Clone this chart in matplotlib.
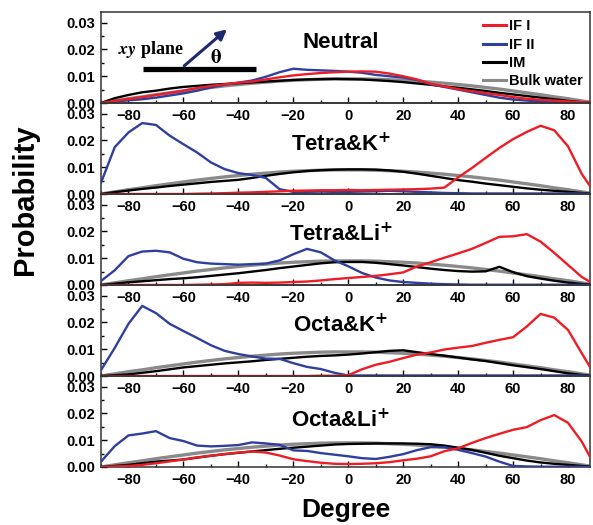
import numpy as np
import matplotlib
matplotlib.use('Agg')
import matplotlib.pyplot as plt
from matplotlib.ticker import MultipleLocator

plt.rcParams['font.family'] = ['Liberation Sans', 'DejaVu Sans']
plt.rcParams['font.weight'] = 'bold'
plt.rcParams['mathtext.default'] = 'bf'

# angle grid (degree)
DEG = np.arange(-90, 91, 5)

# bulk water reference (same in every panel)
BULK = [0, 0.0008, 0.0016, 0.0023, 0.0031, 0.0038, 0.0045, 0.0052, 0.0058, 0.0064,
        0.0069, 0.0074, 0.0078, 0.0082, 0.0085, 0.0087, 0.0089, 0.0090, 0.0090, 0.0090,
        0.0089, 0.0087, 0.0085, 0.0082, 0.0078, 0.0074, 0.0069, 0.0064, 0.0058, 0.0052,
        0.0045, 0.0038, 0.0031, 0.0023, 0.0016, 0.0008, 0]

# Neutral
NEUTRAL_IF1 = [0, 0.0008, 0.0015, 0.0022, 0.0030, 0.0038, 0.0046, 0.0056, 0.0064, 0.0070,
               0.0076, 0.0080, 0.0088, 0.0096, 0.0103, 0.0108, 0.0112, 0.0115, 0.0117, 0.0118,
               0.0117, 0.0110, 0.0100, 0.0088, 0.0072, 0.0062, 0.0052, 0.0044, 0.0037, 0.0030,
               0.0022, 0.0016, 0.0012, 0.0009, 0.0006, 0.0003, 0]
NEUTRAL_IF2 = [0, 0.0005, 0.0010, 0.0014, 0.0020, 0.0028, 0.0036, 0.0046, 0.0058, 0.0068,
               0.0076, 0.0084, 0.0098, 0.0115, 0.0128, 0.0124, 0.0122, 0.0120, 0.0117, 0.0113,
               0.0105, 0.0100, 0.0095, 0.0086, 0.0070, 0.0060, 0.0050, 0.0040, 0.0030, 0.0020,
               0.0013, 0.0009, 0.0006, 0.0004, 0.0003, 0.0001, 0]
NEUTRAL_IM = [0, 0.0018, 0.0030, 0.0040, 0.0046, 0.0054, 0.0060, 0.0064, 0.0068, 0.0071,
              0.0074, 0.0077, 0.0080, 0.0083, 0.0086, 0.0088, 0.0089, 0.0090, 0.0089, 0.0088,
              0.0085, 0.0082, 0.0078, 0.0073, 0.0068, 0.0062, 0.0057, 0.0051, 0.0045, 0.0038,
              0.0032, 0.0026, 0.0020, 0.0014, 0.0008, 0.0003, 0]

# Tetra&K+
TK_IF1 = [0, 0, 0, 0, 0, 0, 0, 0.0001, 0.0002, 0.0003,
          0.0005, 0.0006, 0.0008, 0.0010, 0.0012, 0.0013, 0.0014, 0.0014, 0.0015, 0.0014,
          0.0015, 0.0016, 0.0017, 0.0018, 0.0020, 0.0024, 0.0062, 0.0097, 0.0135, 0.0172,
          0.0205, 0.0232, 0.0255, 0.0238, 0.0178, 0.0075, 0]
TK_IF2 = [0.0042, 0.0175, 0.0230, 0.0265, 0.0258, 0.0218, 0.0186, 0.0155, 0.0118, 0.0093,
          0.0078, 0.0071, 0.0060, 0.0018, 0.0008, 0.0008, 0.0009, 0.0008, 0.0008, 0.0009,
          0.0010, 0.0012, 0.0010, 0.0008, 0.0006, 0.0004, 0.0003, 0.0002, 0.0002, 0.0002,
          0.0002, 0.0002, 0.0002, 0.0002, 0.0002, 0.0002, 0]
TK_IM = [0, 0.0007, 0.0013, 0.0019, 0.0024, 0.0030, 0.0035, 0.0040, 0.0045, 0.0049,
         0.0053, 0.0060, 0.0068, 0.0075, 0.0081, 0.0086, 0.0089, 0.0091, 0.0092, 0.0092,
         0.0091, 0.0088, 0.0083, 0.0076, 0.0068, 0.0060, 0.0052, 0.0046, 0.0039, 0.0033,
         0.0027, 0.0021, 0.0016, 0.0012, 0.0008, 0.0004, 0]

# Tetra&Li+
TL_IF1 = [0, 0, 0, 0, 0, 0, 0, 0.0001, 0.0002, 0.0003,
          0.0008, 0.0009, 0.0008, 0.0009, 0.0011, 0.0013, 0.0017, 0.0022, 0.0026, 0.0030,
          0.0034, 0.0040, 0.0047, 0.0069, 0.0085, 0.0102, 0.0118, 0.0135, 0.0157, 0.0180,
          0.0182, 0.0190, 0.0162, 0.0120, 0.0075, 0.0030, 0]
TL_IF2 = [0.0015, 0.0055, 0.0108, 0.0125, 0.0128, 0.0122, 0.0098, 0.0085, 0.0080, 0.0078,
          0.0076, 0.0078, 0.0080, 0.0092, 0.0115, 0.0135, 0.0122, 0.0092, 0.0070, 0.0045,
          0.0028, 0.0017, 0.0011, 0.0008, 0.0005, 0.0003, 0.0002, 0.0001, 0.0001, 0.0001,
          0.0001, 0.0001, 0.0001, 0.0001, 0.0001, 0.0001, 0]
TL_IM = [0, 0.0005, 0.0010, 0.0014, 0.0018, 0.0022, 0.0025, 0.0029, 0.0034, 0.0039,
         0.0044, 0.0050, 0.0056, 0.0063, 0.0069, 0.0075, 0.0081, 0.0085, 0.0086, 0.0086,
         0.0083, 0.0078, 0.0073, 0.0067, 0.0061, 0.0056, 0.0052, 0.0050, 0.0051, 0.0068,
         0.0048, 0.0033, 0.0024, 0.0016, 0.0009, 0.0004, 0]

# Octa&K+
OK_IF1 = [0, 0, 0, 0, 0, 0, 0, 0, 0, 0,
          0, 0, 0, 0, 0, 0, 0.0001, 0.0001, 0.0003, 0.0025,
          0.0042, 0.0053, 0.0067, 0.0080, 0.0088, 0.0099, 0.0106, 0.0112, 0.0124, 0.0135,
          0.0145, 0.0185, 0.0232, 0.0218, 0.0172, 0.0085, 0]
OK_IF2 = [0.0022, 0.0105, 0.0195, 0.0262, 0.0235, 0.0195, 0.0168, 0.0142, 0.0115, 0.0094,
          0.0082, 0.0073, 0.0065, 0.0064, 0.0048, 0.0034, 0.0026, 0.0012, 0.0002, 0.0002,
          0.0002, 0.0002, 0.0002, 0.0002, 0.0002, 0.0002, 0.0002, 0.0002, 0.0002, 0.0002,
          0.0002, 0.0002, 0.0002, 0.0002, 0.0002, 0.0002, 0]
OK_IM = [0, 0.0003, 0.0006, 0.0012, 0.0018, 0.0025, 0.0032, 0.0037, 0.0042, 0.0047,
         0.0051, 0.0055, 0.0060, 0.0064, 0.0068, 0.0072, 0.0075, 0.0077, 0.0080, 0.0084,
         0.0089, 0.0094, 0.0096, 0.0089, 0.0082, 0.0076, 0.0069, 0.0062, 0.0056, 0.0048,
         0.0040, 0.0033, 0.0026, 0.0018, 0.0010, 0.0004, 0]

# Octa&Li+
OL_IF1 = [0, 0.0002, 0.0004, 0.0008, 0.0014, 0.0021, 0.0028, 0.0036, 0.0042, 0.0048,
          0.0054, 0.0058, 0.0054, 0.0043, 0.0029, 0.0022, 0.0016, 0.0012, 0.0011, 0.0012,
          0.0014, 0.0018, 0.0025, 0.0031, 0.0040, 0.0059, 0.0070, 0.0090, 0.0108, 0.0124,
          0.0139, 0.0149, 0.0175, 0.0194, 0.0165, 0.0095, 0]
OL_IF2 = [0.0020, 0.0078, 0.0118, 0.0125, 0.0134, 0.0108, 0.0097, 0.0080, 0.0077, 0.0079,
          0.0082, 0.0092, 0.0088, 0.0083, 0.0062, 0.0060, 0.0052, 0.0046, 0.0040, 0.0033,
          0.0030, 0.0038, 0.0048, 0.0063, 0.0074, 0.0074, 0.0064, 0.0052, 0.0039, 0.0020,
          0.0004, 0.0002, 0.0001, 0.0001, 0.0001, 0.0001, 0]
OL_IM = [0, 0.0004, 0.0008, 0.0014, 0.0020, 0.0024, 0.0028, 0.0035, 0.0042, 0.0048,
         0.0053, 0.0058, 0.0063, 0.0068, 0.0072, 0.0076, 0.0080, 0.0084, 0.0086, 0.0087,
         0.0088, 0.0088, 0.0088, 0.0087, 0.0085, 0.0080, 0.0072, 0.0064, 0.0053, 0.0042,
         0.0033, 0.0024, 0.0017, 0.0012, 0.0008, 0.0004, 0]

TITLES = ['Neutral', r'Tetra&K$^{+}$', r'Tetra&Li$^{+}$', r'Octa&K$^{+}$', r'Octa&Li$^{+}$']
TITLE_Y = [0.66, 0.54, 0.56, 0.55, 0.51]
PANELS = [
    (NEUTRAL_IF1, NEUTRAL_IF2, NEUTRAL_IM),
    (TK_IF1, TK_IF2, TK_IM),
    (TL_IF1, TL_IF2, TL_IM),
    (OK_IF1, OK_IF2, OK_IM),
    (OL_IF1, OL_IF2, OL_IM),
]
LABELS = ['IF I', 'IF II', 'IM', 'Bulk water']
COLORS = ['#ee1c24', '#2f3f9f', '#000000', '#8a8a8a']

fig = plt.figure(figsize=(5.93, 5.25), dpi=100)
left, right = 101 / 593, 590 / 593
top_px, h_px = 12, 91

axes = []
for i, (if1, if2, im) in enumerate(PANELS):
    y0 = 1 - (top_px + (i + 1) * h_px) / 525
    ax = fig.add_axes([left, y0, right - left, h_px / 525])
    ax.patch.set_alpha(0)
    ax.plot(DEG, BULK, color=COLORS[3], lw=2.4, zorder=2)
    ax.plot(DEG, im, color=COLORS[2], lw=1.7, zorder=3)
    ax.plot(DEG, if2, color=COLORS[1], lw=1.7, zorder=4)
    ax.plot(DEG, if1, color=COLORS[0], lw=1.7, zorder=5)
    ax.set_xlim(-90, 88)
    ax.set_ylim(0, 0.034)
    ax.xaxis.set_major_locator(MultipleLocator(20))
    ax.xaxis.set_minor_locator(MultipleLocator(10))
    ax.yaxis.set_major_locator(MultipleLocator(0.01))
    ax.yaxis.set_minor_locator(MultipleLocator(0.005))
    ax.yaxis.set_major_formatter(matplotlib.ticker.FormatStrFormatter('%.2f'))
    ax.tick_params(which='both', direction='in', labelsize=10.5, width=1)
    ax.tick_params(which='major', length=4, pad=4)
    ax.tick_params(which='minor', length=2)
    for sp in ax.spines.values():
        sp.set_linewidth(1.1)
        sp.set_color('#333333')
    ax.text(0.49, TITLE_Y[i], TITLES[i], transform=ax.transAxes, ha='center',
            va='center', fontsize=16, fontweight='bold')
    axes.append(ax)

# legend in the top panel
handles = [plt.Line2D([], [], color=c, lw=2.2) for c in COLORS]
axes[0].legend(handles, LABELS, loc='upper left', bbox_to_anchor=(0.781, 0.92),
               frameon=False, fontsize=10.5, handlelength=1.6, handletextpad=0.2,
               labelspacing=0.3, borderpad=0, borderaxespad=0)

# xy plane sketch
a0 = axes[0]
a0.plot([0.086, 0.317], [0.378, 0.378], transform=a0.transAxes, color='black',
        lw=3.8, solid_capstyle='butt', zorder=6)
a0.annotate('', xy=(0.262, 0.83), xytext=(0.166, 0.389), xycoords='axes fraction',
            arrowprops=dict(arrowstyle='-|>,head_length=0.6,head_width=0.3',
                            color='#1f2a6e', lw=2.2), zorder=7)
a0.text(0.103, 0.585, r'$\mathit{xy}$ plane', transform=a0.transAxes, ha='center',
        va='center', fontsize=13, family='Liberation Serif', fontweight='bold',
        math_fontfamily='stix')
a0.text(0.236, 0.50, r'$\theta$', transform=a0.transAxes, ha='center', va='center',
        fontsize=15, math_fontfamily='stix')

fig.text(0.042, 1 - 200 / 525, 'Probability', rotation=90, ha='center', va='center',
         fontsize=21, fontweight='bold')
fig.text(346 / 593, 1 - 510 / 525, 'Degree', ha='center', va='center',
         fontsize=19, fontweight='bold')

fig.savefig('out.png', dpi=100)
